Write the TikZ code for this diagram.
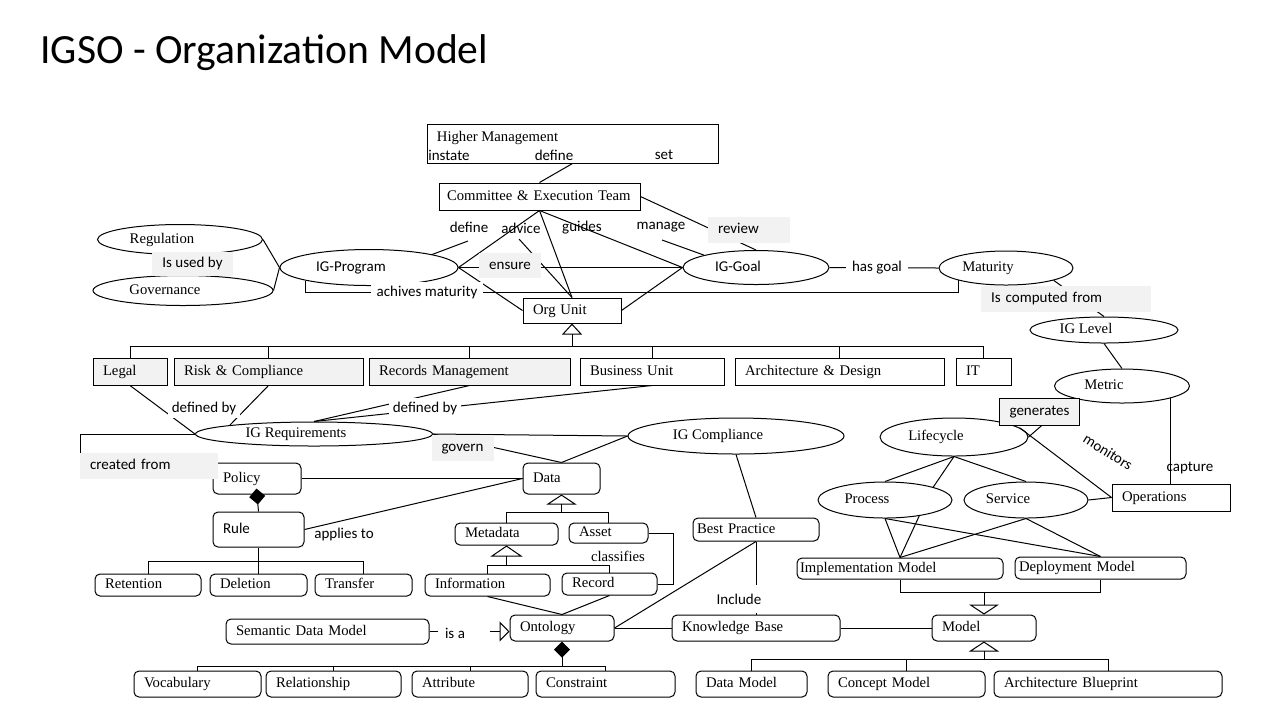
\documentclass[tikz,border=0pt]{standalone}
\usepackage{fontspec}
\setmainfont{Liberation Serif}
\newfontfamily\labfont{Carlito}
\usetikzlibrary{arrows.meta,shapes.geometric}
\definecolor{lgray}{HTML}{F2F2F2}

\tikzset{
  serif/.style={font=\fontsize{7.35}{8.8}\selectfont},
  sans/.style={font=\labfont\fontsize{7.5}{9}\selectfont},
  sq/.style={draw, fill=white, inner ysep=0pt, inner xsep=5pt, align=left, serif, text height=5.2pt, text depth=1.6pt},
  rb/.style={sq, rounded corners=2.5pt},
  el/.style={draw, fill=white, ellipse, inner sep=0pt, serif, text height=5.2pt, text depth=1.6pt, execute at end node={\hspace*{18pt}}},
  lbl/.style={inner sep=1pt, sans},
  wlbl/.style={lbl, fill=white, inner xsep=3pt, minimum height=10pt},
  glbl/.style={lbl, fill=lgray, inner xsep=5pt, inner ysep=0pt, align=left, text height=5.3pt, text depth=1.7pt},
  inh/.style={-{Triangle[open, length=5pt, width=15pt]}},
  comp/.style={-{Diamond[length=8pt, width=8pt]}},
}

\begin{document}
\begin{tikzpicture}[x=0.5pt, y=-0.5pt, line width=0.5pt]
  \useasboundingbox (0,0) rectangle (1280,720);
  %
  \node[anchor=base west, inner sep=0pt, font=\labfont\fontsize{20.8}{24}\selectfont] (title) at (40,63) {IGSO - Organization Model};
  %
  % management and program
  \node[sq, minimum width=145.5pt, minimum height=19.5pt] (hm) at (572.5,143.5) {};
  \node[inner sep=0pt, serif] (hmtxt) at (497.5,138) {Higher Management};
  \node[sq, inner xsep=4pt, text width=92.5pt, minimum height=13.5pt] (cet) at (539.5,196.5) {Committee \& Execution Team};
  \node[sq, text width=39pt, minimum height=12.5pt] (ou) at (572,310.5) {Org Unit};
  \node[el, minimum width=82.5pt, minimum height=15pt] (reg) at (180,239.5) {Regulation};
  \node[el, minimum width=90pt, minimum height=15pt] (gov) at (183,290.5) {Governance};
  \node[el, sans, minimum width=89pt, minimum height=18pt] (prog) at (369,267.5) {IG-Program};
  \node[el, sans, minimum width=73pt, minimum height=17pt] (goal) at (756,267.5) {IG-Goal};
  \node[el, minimum width=67pt, minimum height=17pt] (mat) at (1006,268) {Maturity};
  \node[el, minimum width=74pt, minimum height=13pt] (igl) at (1104,330) {IG Level};
  \node[el, minimum width=67.5pt, minimum height=17pt] (met) at (1122,386) {Metric};
  %
  % org units
  \node[sq, fill=lgray, text width=27pt, minimum height=13.5pt] (legal) at (130,371.5) {Legal};
  \node[sq, fill=lgray, text width=84.5pt, minimum height=13.5pt] (risk) at (268.5,371.5) {Risk \& Compliance};
  \node[sq, fill=lgray, text width=90.5pt, minimum height=13.5pt] (recm) at (469.5,371.5) {Records Management};
  \node[sq, text width=62pt, minimum height=13.5pt] (bu) at (652,371.5) {Business Unit};
  \node[sq, text width=94.5pt, minimum height=13.5pt] (ad) at (839.5,371.5) {Architecture \& Design};
  \node[sq, text width=17.5pt, minimum height=13.5pt] (it) at (983.5,371.5) {IT};
  %
  % requirements, compliance, lifecycle
  \node[el, minimum width=118.5pt, minimum height=12pt] (igr) at (314,434) {IG Requirements};
  \node[el, minimum width=108pt, minimum height=18pt] (igc) at (736,436) {IG Compliance};
  \node[el, minimum width=74pt, minimum height=19pt] (life) at (954,437) {Lifecycle};
  \node[el, minimum width=67pt, minimum height=18pt] (proc) at (885,500) {Process};
  \node[el, minimum width=62pt, minimum height=18pt] (serv) at (1026,500) {Service};
  \node[sq, text width=49pt, minimum height=13.5pt] (ops) at (1171,497.5) {Operations};
  %
  % policy and data
  \node[rb, text width=34pt, minimum height=15.5pt] (policy) at (257,478.5) {Policy};
  \node[rb, sans, text width=35.5pt, minimum height=17.5pt] (rule) at (258.5,529.5) {Rule};
  \node[rb, text width=43pt, minimum height=11pt] (ret) at (148,585) {Retention};
  \node[rb, text width=38.5pt, minimum height=11pt] (del) at (258.5,585) {Deletion};
  \node[rb, text width=38.5pt, minimum height=11pt] (trans) at (363.5,585) {Transfer};
  \node[rb, text width=28.5pt, minimum height=15.5pt] (data) at (561.5,478.5) {Data};
  \node[rb, text width=41.5pt, minimum height=11pt] (meta) at (506.5,534) {Metadata};
  \node[rb, text width=29.5pt, minimum height=10pt] (asset) at (608.5,533) {Asset};
  \node[rb, text width=52.5pt, minimum height=11pt] (info) at (487.5,585) {Information};
  \node[rb, text width=37.5pt, minimum height=11pt] (rec) at (609.5,584) {Record};
  \node[rb, inner xsep=2pt, text width=59pt, minimum height=11.5pt] (bp) at (756,529.5) {Best Practice};
  \node[rb, inner xsep=1.5pt, text width=100pt, minimum height=10.5pt] (impl) at (900,568.5) {Implementation Model};
  \node[rb, inner xsep=2pt, text width=81.5pt, minimum height=11pt] (dep) at (1100.5,568) {Deployment Model};
  %
  % ontology and models
  \node[rb, text width=91.5pt, minimum height=12.5pt] (sdm) at (327.5,631.5) {Semantic Data Model};
  \node[rb, text width=42pt, minimum height=13pt] (onto) at (562,628) {Ontology};
  \node[rb, text width=74pt, minimum height=13pt] (kb) at (756,628) {Knowledge Base};
  \node[rb, text width=42pt, minimum height=13pt] (model) at (984,628) {Model};
  \node[rb, text width=53.5pt, minimum height=13pt] (voc) at (197.5,684) {Vocabulary};
  \node[rb, text width=57.5pt, minimum height=13pt] (rel) at (333.5,684) {Relationship};
  \node[rb, text width=48pt, minimum height=13pt] (attr) at (470,684) {Attribute};
  \node[rb, text width=59.5pt, minimum height=13pt] (cons) at (605.5,684) {Constraint};
  \node[rb, text width=45.5pt, minimum height=13pt] (dm) at (751.5,684) {Data Model};
  \node[rb, text width=68.5pt, minimum height=13pt] (cm) at (906.5,684) {Concept Model};
  \node[rb, text width=104pt, minimum height=13pt] (ab) at (1108,684) {Architecture Blueprint};
  %
  \coordinate (dfn) at (468,241);
  \coordinate (adv) at (519,239);
  \coordinate (mng) at (662,240);
  \coordinate (oj) at (572,347);
  \coordinate (cf) at (80,434);
  \coordinate (dj) at (561.5,512);
  \coordinate (mj) at (506.5,565);
  \coordinate (rj) at (258.5,561);
  \coordinate (oc) at (562,667);
  \coordinate (isa1) at (438,631.5);
  \coordinate (isa2) at (490,631.5);
  \coordinate (mdj) at (984,592);
  \coordinate (mbj) at (984,660);
  %
  \draw (hm.south) -- (cet.north);
  \draw (cet.east) -- (goal.north);
  \draw (cet.south) -- (prog.east);
  \draw (cet.south) -- (ou.north);
  \draw (cet.south) -- (goal.west);
  \draw (adv) -- (ou.north);
  \draw (prog.north east) -- (dfn);
  \draw (mng) -- (goal.north west);
  \draw (prog.east) -- (goal.west);
  \draw (prog.east) -- (ou.west);
  \draw (goal.west) -- (ou.east);
  \draw (prog.south west) -- ++(0,12) -| (mat.south west);
  \draw (goal.east) -- (mat.west);
  \draw (reg.east) -- (prog.west);
  \draw (gov.east) -- (prog.west);
  \draw (mat.south east) -- (igl.north);
  \draw (igl.south) -- (met.north);
  \draw (met.-14) -- (met.-14 |- ops.north);
  \draw (met.194) -- (life.east);
  \draw (life.8) -- (ops.west);
  \draw (serv.east) -- (ops.west);
  \draw (life.south) -- (proc.north);
  \draw (life.south) -- (proc.15);
  \draw (life.south) -- (serv.north);
  \draw (proc.south) -- (impl.north);
  \draw (proc.-25) -- (impl.north);
  \draw (proc.south) -- (dep.north);
  \draw (serv.south) -- (impl.north);
  \draw (serv.south) -- (dep.north);
  \draw (impl.south) -- ++(0,13) -| (dep.south);
  \draw[inh] (mdj) -- (model.north);
  \draw (dm.north) -- ++(0,-11) -| (ab.north);
  \draw (cm.north) -- (cm.north |- mbj);
  \draw[inh] (mbj) -- (model.south);
  %
  \draw (legal.north) -- ++(0,-11) -| (it.north);
  \draw (risk.north) -- (risk.north |- oj);
  \draw (recm.north) -- (recm.north |- oj);
  \draw (bu.north) -- (bu.north |- oj);
  \draw (ad.north) -- (ad.north |- oj);
  \draw[-{Triangle[open, length=5.5pt, width=10pt]}] (oj) -- (ou.south);
  \draw (legal.south) -- (igr.west);
  \draw (risk.south) -- (igr.north west);
  \draw (recm.south) -- (igr.north);
  \draw (bu.south) -- (igr.north);
  \draw (igr.west) -- (cf) |- (policy.west);
  \draw (igr.east) -- (igc.west);
  \draw (igr.east) -- (data.north);
  \draw (igc.west) -- (data.north);
  %
  \draw (policy.east) -- (data.west);
  \draw (rule.east) -- (data.west);
  \draw[comp, shorten >=-3pt] (rule.north) -- (policy.south);
  \draw (ret.north) |- (rj) -| (trans.north);
  \draw (rule.south) -- (del.north);
  \draw (meta.north) |- (dj) -| (asset.north);
  \draw[inh] (dj) -- (data.south);
  \draw (info.north) |- (mj) -| (rec.north);
  \draw[-{Triangle[open, length=5.5pt, width=16pt]}] (mj) -- (meta.south);
  \draw (info.south) -- (onto.north);
  \draw (rec.south) -- (onto.north);
  \draw (rec.east) -- ++(16,0) |- (asset.east);
  \draw (igc.south) -- (bp.north);
  \draw (bp.south) -- (onto.east);
  \draw (bp.south) -- (kb.north);
  \draw (onto.east) -- (kb.west);
  \draw (kb.east) -- (model.west);
  \draw (sdm.east) -- (isa1);
  \draw[-{Triangle[open, length=5pt, width=10pt]}] (isa2) -- (isa2 -| onto.west);
  \draw (voc.north) -- ++(0,-4) -| (cons.north);
  \draw (rel.north) -- (rel.north |- oc);
  \draw (attr.north) -- (attr.north |- oc);
  \draw[comp] (oc) -- (onto.south);
  %
  % labels
  \node[glbl, text width=31pt, minimum height=13pt] (review) at (749,230) {review};
  \node[glbl, minimum width=39.5pt, minimum height=12pt] (isused) at (192.5,264) {Is used by};
  \node[glbl, minimum width=30pt, minimum height=12.5pt] (ensure) at (510,265.5) {ensure};
  \node[glbl, text width=75pt, minimum height=13pt] (computed) at (1066,299) {Is computed from};
  \node[glbl, text width=59pt, minimum height=13pt] (created) at (149,466) {created from};
  \node[glbl, minimum width=29.5pt, minimum height=13pt] (govern) at (462.5,448) {govern};
  \node[sq, fill=lgray, sans, align=center, minimum width=39.5pt, minimum height=13.5pt] (gnr) at (1039.5,411.5) {generates};
  \node[lbl] (instl) at (449,155) {instate};
  \node[lbl] (hmdef) at (554,155) {define};
  \node[lbl] (setl) at (664,155) {set};
  \node[lbl] (dfnl) at (469,227) {define};
  \node[lbl] (advl) at (521,228) {advice};
  \node[lbl] (gdsl) at (582,228) {guides};
  \node[lbl] (mngl) at (661,227) {manage};
  \node[wlbl] (hasgoal) at (877,268) {has goal};
  \node[wlbl] (achl) at (427,292) {achives maturity};
  \node[wlbl, inner xsep=2pt] (dby1) at (204,408) {defined by};
  \node[wlbl, inner xsep=2pt] (dby2) at (425,408) {defined by};
  \node[lbl, rotate=-32] (monl) at (1108,452) {monitors};
  \node[lbl] (capl) at (1190,468) {capture};
  \node[lbl] (appl) at (344,534) {applies to};
  \node[lbl, serif] (clsl) at (618,556) {classifies};
  \node[wlbl, minimum height=14pt] (incl) at (739,599) {Include};
  \node[lbl] (isal) at (455,633) {is a};
\end{tikzpicture}
\end{document}
